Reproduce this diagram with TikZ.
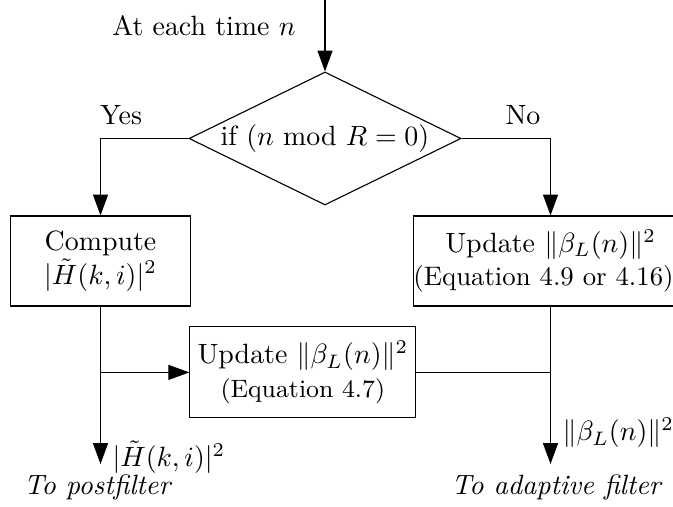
\documentclass[tikz,border=0pt]{standalone}
\usetikzlibrary{shapes.geometric,arrows.meta}
\newcommand\pxu{0.3585pt}
\newcommand\eqline{\fontsize{9.6}{11.5}\selectfont}
\tikzset{
  box/.style={draw, rectangle, align=center, inner sep=0pt,
              minimum height=90*\pxu},
  decision/.style={draw, diamond, shape aspect=2, inner sep=0pt,
              minimum width=272*\pxu, minimum height=133*\pxu},
  arr/.style={-{Triangle[length=7.5pt,width=5.4pt]}},
  lbl/.style={inner sep=0pt}
}
\begin{document}
\begin{tikzpicture}[x=\pxu, y=-\pxu, line width=0.4pt]
\useasboundingbox (0,0) rectangle (673,507);

% entry point and decision
\coordinate (start) at (325,0);
\node[lbl] (entry) at (204,26) {At each time $n$};
\node[decision] (dec) at (325,138.5) {if ($n$ mod $R=0$)};
\node[lbl] (yes) at (121,115) {Yes};
\node[lbl] (no) at (523,115) {No};

% processing blocks
\node[box, minimum width=180*\pxu] (comp) at (100.5,261)
  {Compute\\$|\tilde{H}(k,i)|^2$};
\node[box, minimum width=270*\pxu] (upd) at (550.5,261)
  {Update $\|\beta_L(n)\|^2$\\{\eqline(Equation 4.9 or 4.16)}\hspace*{5pt}};
\node[box, minimum width=226*\pxu, minimum height=91*\pxu] (mid) at (302.8,372.4)
  {Update $\|\beta_L(n)\|^2$\\{\small(Equation 4.7)}};

% outputs
\coordinate (outL) at (100.5,464);
\coordinate (outR) at (550.5,464);
\node[lbl, anchor=west] (hout) at (112,457) {$|\tilde{H}(k,i)|^2$};
\node[lbl] (post) at (98,488) {\textit{To postfilter}};
\node[lbl, anchor=west] (bout) at (562,433) {$\|\beta_L(n)\|^2$};
\node[lbl] (adapt) at (557,488) {\textit{To adaptive filter}};

% connectors
\draw[arr] (start) -- (dec.north);
\draw[arr] (dec.west) -| (comp.north);
\draw[arr] (dec.east) -| (upd.north);
\draw[arr] (comp.south) -- (outL);
\draw[arr] (comp.south |- mid.west) -- (mid.west);
\draw (mid.east) -- (upd.south |- mid.east);
\draw[arr] (upd.south) -- (outR);
\end{tikzpicture}
\end{document}
